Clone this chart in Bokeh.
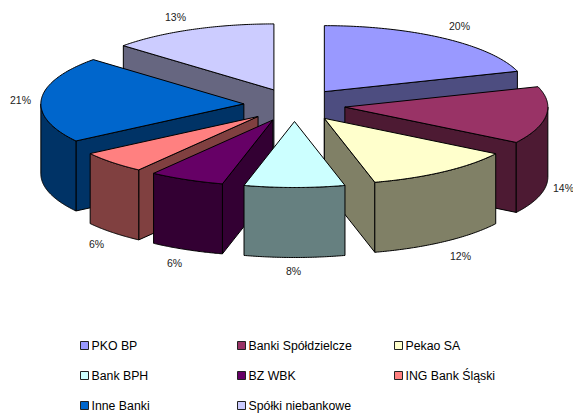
import numpy as np
from bokeh.plotting import figure
from bokeh.models import Range1d
from bokeh.core.properties import value
from bokeh.embed import file_html
from bokeh.resources import INLINE

names = ["PKO BP", "Banki Spółdzielcze", "Pekao SA", "Bank BPH", "BZ WBK",
         "ING Bank Śląski", "Inne Banki", "Spółki niebankowe"]
shares = [20.0, 14.0, 12.0, 8.0, 6.0, 5.5, 21.2, 13.3]
top_colors = ["#9999FF", "#993366", "#FFFFCC", "#CCFFFF", "#660066", "#FF8080", "#0066CC", "#CCCCFF"]
side_colors = ["#4D4D80", "#4D1A33", "#808066", "#668080", "#330033", "#804040", "#003366", "#666680"]
share_labels = ["20%", "14%", "12%", "8%", "6%", "6%", "21%", "13%"]

# layout, in page pixels
CX, CY, RX, RY, DEPTH, EXPLODE = 294.0, 104.5, 203.0, 66.0, 70.0, 0.25
LABEL_POS = [(459, 25), (563, 187), (460, 255), (293, 270), (174, 262), (96, 243), (20, 99), (175, 16)]
LEG_X = [80, 237, 394]
LEG_Y = [345, 375, 405]
DRAW_ORDER = [7, 0, 6, 1, 5, 2, 4, 3]  # back to front

W, H = 573, 414
p = figure(width=W, height=H, output_backend="svg", toolbar_location=None,
           x_range=Range1d(0, W), y_range=Range1d(H, 0),
           min_border=0, min_border_left=0, min_border_right=0, min_border_top=0, min_border_bottom=0,
           background_fill_color="white", border_fill_color="white", outline_line_color=None)
p.axis.visible = False
p.grid.visible = False

cum = np.cumsum([0] + shares) / sum(shares) * 2 * np.pi


def pt(ax, ay, th):
    return ax + RX * np.sin(th), ay - RY * np.cos(th)


xs, ys, fills = [], [], []
for i in DRAW_ORDER:
    t1, t2 = cum[i], cum[i + 1]
    mid = (t1 + t2) / 2
    ax = CX + EXPLODE * RX * np.sin(mid)
    ay = CY - EXPLODE * RY * np.cos(mid)
    # radial walls that face the viewer
    for th, visible in ((t1, np.sin(t1) < -1e-6), (t2, np.sin(t2) > 1e-6)):
        if visible:
            ex, ey = pt(ax, ay, th)
            xs.append([ax, ex, ex, ax])
            ys.append([ay, ey, ey + DEPTH, ay + DEPTH])
            fills.append(side_colors[i])
    # outer wall: front half of the rim only
    a, b = max(t1, np.pi / 2), min(t2, 3 * np.pi / 2)
    if b > a:
        th = np.linspace(a, b, 60)
        ex, ey = pt(ax, ay, th)
        xs.append(list(ex) + list(ex[::-1]))
        ys.append(list(ey) + list((ey + DEPTH)[::-1]))
        fills.append(side_colors[i])
    # top face
    th = np.linspace(t1, t2, 80)
    ex, ey = pt(ax, ay, th)
    xs.append([ax] + list(ex))
    ys.append([ay] + list(ey))
    fills.append(top_colors[i])

p.patches(xs, ys, fill_color=fills, line_color="black", line_width=1, line_join="miter")

p.text(x=[q[0] for q in LABEL_POS], y=[q[1] for q in LABEL_POS], text=share_labels,
       text_font=value("Liberation Sans"), text_font_size="10.5px", text_color="#222222",
       text_align="center", text_baseline="middle")

lx = [LEG_X[k % 3] for k in range(len(names))]
ly = [LEG_Y[k // 3] for k in range(len(names))]
p.rect(x=[v + 4 for v in lx], y=ly, width=8, height=8, fill_color=top_colors, line_color="#222222", line_width=1)
p.text(x=[v + 11 for v in lx], y=ly, text=names, text_font=value("Liberation Sans"),
       text_font_size="12.3px", text_color="black", text_align="left", text_baseline="middle")

open("out.html", "w").write(file_html(p, INLINE))
